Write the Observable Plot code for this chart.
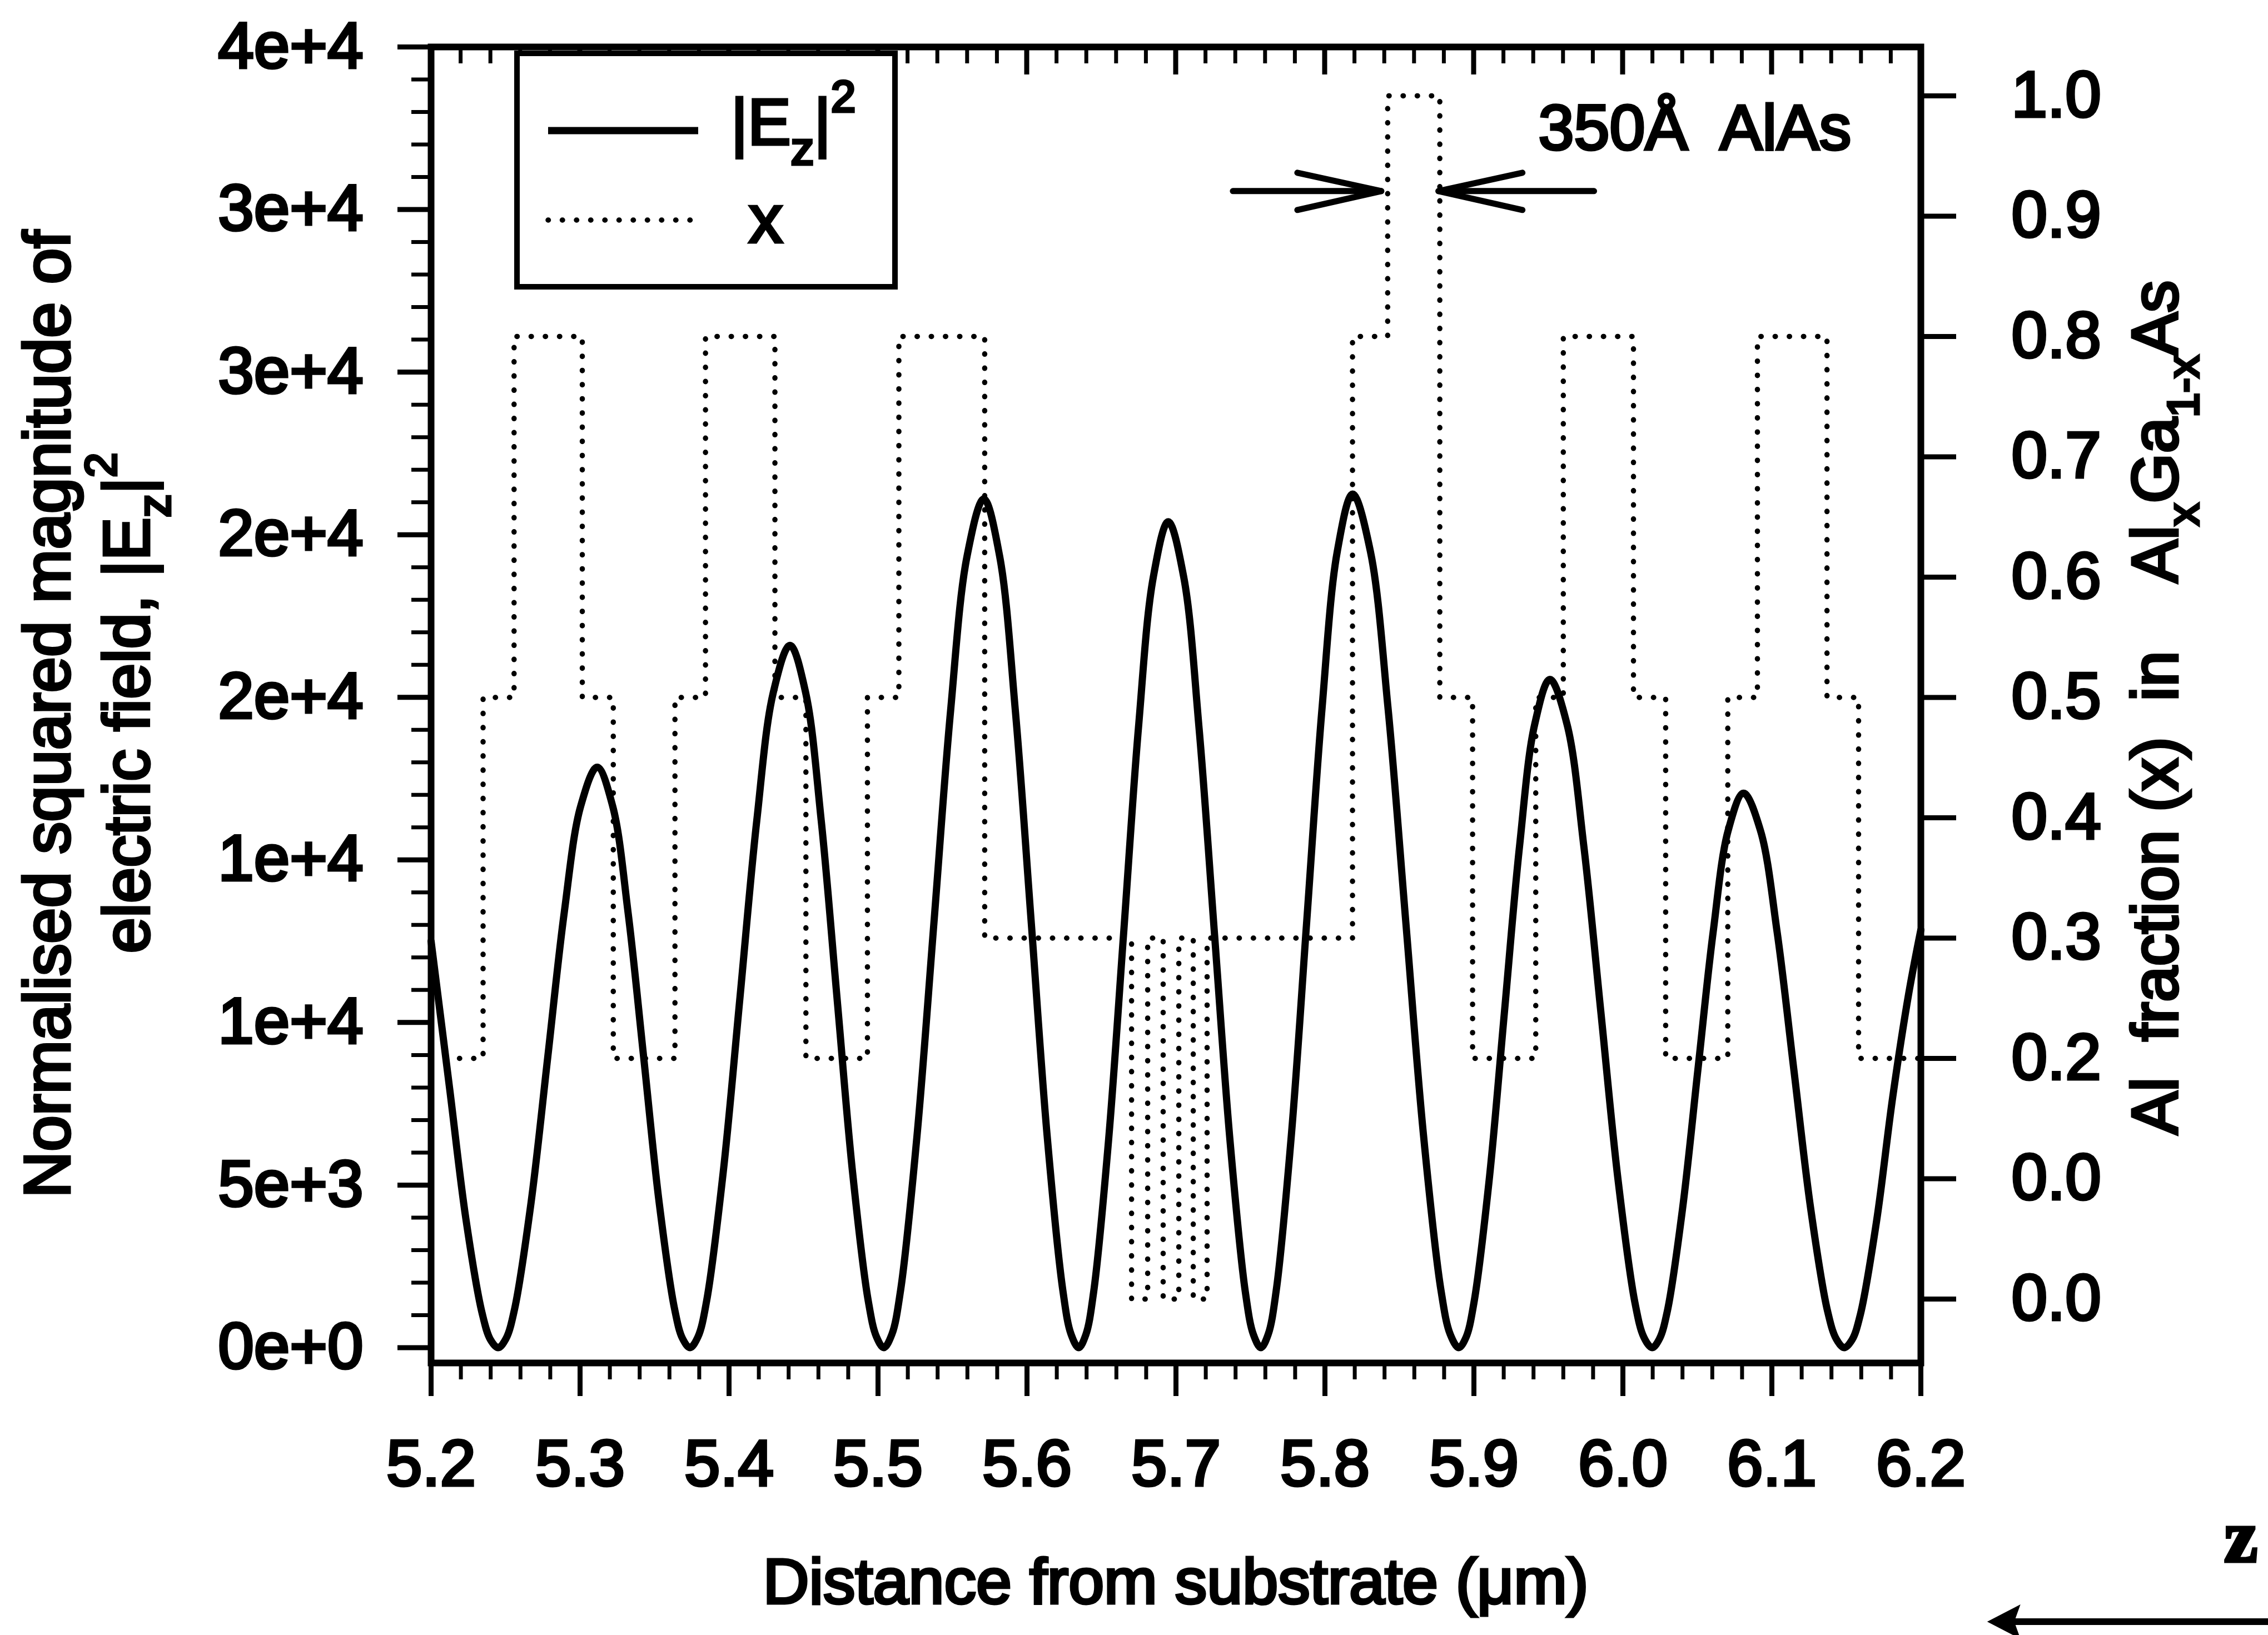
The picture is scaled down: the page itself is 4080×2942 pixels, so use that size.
<!DOCTYPE html>
<html>
<head>
<meta charset="utf-8">
<script src="https://cdn.jsdelivr.net/npm/d3@7"></script>
<script src="https://cdn.jsdelivr.net/npm/@observablehq/plot@0.6"></script>
<style>
  html, body { margin: 0; padding: 0; background: #fff; }
  #chart svg { display: block; }
  #chart text { stroke: #000; stroke-width: 5px; paint-order: stroke; }
</style>
</head>
<body>
<div id="chart"></div>
<script>
// ===================== data =====================
// |Ez|^2 curve: distance from substrate (um) and normalised squared field
const fieldX = [
  5.2000, 5.2125, 5.2233, 5.2342, 5.2398, 5.2450,
  5.2503, 5.2561, 5.2671, 5.2783, 5.2894, 5.3004, 5.3115, 5.3219, 5.3322, 5.3427, 5.3531, 5.3634, 5.3688, 5.3738,
  5.3792, 5.3850, 5.3961, 5.4074, 5.4186, 5.4297, 5.4409, 5.4514, 5.4619, 5.4724, 5.4829, 5.4934, 5.4989, 5.5039,
  5.5093, 5.5151, 5.5262, 5.5375, 5.5487, 5.5598, 5.5710, 5.5816, 5.5922, 5.6029, 5.6135, 5.6241, 5.6296, 5.6347,
  5.6395, 5.6447, 5.6547, 5.6648, 5.6748, 5.6848, 5.6948, 5.7052, 5.7155, 5.7259, 5.7363, 5.7466, 5.7520, 5.7570,
  5.7619, 5.7673, 5.7775, 5.7878, 5.7981, 5.8083, 5.8186, 5.8305, 5.8423, 5.8542, 5.8661, 5.8779, 5.8841, 5.8898,
  5.8947, 5.9000, 5.9102, 5.9204, 5.9306, 5.9408, 5.9510, 5.9625, 5.9738, 5.9853, 5.9968, 6.0081, 6.0141, 6.0196,
  6.0245, 6.0299, 6.0400, 6.0503, 6.0606, 6.0707, 6.0810, 6.0923, 6.1035, 6.1148, 6.1261, 6.1373, 6.1432, 6.1486,
  6.1538, 6.1594, 6.1703, 6.1811, 6.1919, 6.2000
];
const fieldY = [
  12500, 7950, 3980, 1070, 250, 0,
  280, 1200, 4460, 8930, 13390, 16650, 17850, 16650, 13390, 8930, 4460, 1200, 280, 0,
  340, 1450, 5400, 10800, 16200, 20150, 21600, 20150, 16200, 10800, 5400, 1450, 340, 0,
  410, 1750, 6530, 13050, 19580, 24350, 26100, 24350, 19580, 13050, 6530, 1750, 410, 0,
  400, 1700, 6350, 12700, 19050, 23700, 25400, 23700, 19050, 12700, 6350, 1700, 400, 0,
  410, 1760, 6560, 13130, 19690, 24490, 26250, 24490, 19690, 13130, 6560, 1760, 410, 0,
  320, 1380, 5140, 10280, 15410, 19170, 20550, 19170, 15410, 10280, 5140, 1380, 320, 0,
  270, 1140, 4260, 8530, 12790, 15910, 17050, 15910, 12790, 8530, 4260, 1140, 270, 0,
  240, 1020, 3900, 7700, 10900, 12850
];
// Al fraction profile: start of each layer (um) and its Al fraction x
const layerX = [
  5.2000, 5.2349, 5.2557, 5.3015, 5.3223, 5.3637, 5.3842, 5.4308, 5.4516, 5.4929, 5.5140,
  5.5716, 5.6702, 5.6810, 5.6914, 5.7019, 5.7116, 5.7209, 5.8185, 5.8421, 5.8771,
  5.8991, 5.9415, 5.9600, 6.0071, 6.0287, 6.0704, 6.0903, 6.1370, 6.1582, 6.2000
];
const layerFrac = [
  0.2, 0.5, 0.8, 0.5, 0.2, 0.5, 0.8, 0.5, 0.2, 0.5, 0.8,
  0.3, 0.0, 0.3, 0.0, 0.3, 0.0, 0.3, 0.8, 1.0, 0.5,
  0.2, 0.5, 0.8, 0.5, 0.2, 0.5, 0.8, 0.5, 0.2, 0.2
];
// tick values and their printed labels
const xTicks = [5.2, 5.3, 5.4, 5.5, 5.6, 5.7, 5.8, 5.9, 6.0, 6.1, 6.2];
const xTickLabels = ["5.2", "5.3", "5.4", "5.5", "5.6", "5.7", "5.8", "5.9", "6.0", "6.1", "6.2"];
const leftTicks = [0, 5000, 10000, 15000, 20000, 25000, 30000, 35000, 40000];
const leftTickLabels = ["0e+0", "5e+3", "1e+4", "1e+4", "2e+4", "2e+4", "3e+4", "3e+4", "4e+4"];
const rightTicks = [0.0, 0.1, 0.2, 0.3, 0.4, 0.5, 0.6, 0.7, 0.8, 0.9, 1.0];
const rightTickLabels = ["0.0", "0.0", "0.2", "0.3", "0.4", "0.5", "0.6", "0.7", "0.8", "0.9", "1.0"];
// the right axis (x = 0 .. 1) expressed on the left scale
const rightAxisAt0 = 1495, rightAxisAt1 = 38497;
// annotation of the AlAs layer (um, and right-axis units)
const arrowLeft = [5.7384, 5.8380];
const arrowRight = [5.9808, 5.8764];
const arrowLevel = 0.9206;
const noteX = 5.9435, noteLevel = 0.955;

// ===================== chart =====================
const toLeft = v => rightAxisAt0 + v * (rightAxisAt1 - rightAxisAt0);
const field = fieldX.map((x, i) => ({x, y: fieldY[i]}));
const layers = layerX.map((x, i) => ({x, y: toLeft(layerFrac[i])}));
const rightVals = rightTicks.map(toLeft);
const minorX = d3.range(0, 51).filter(i => i % 5).map(i => 5.2 + i * 0.02);
const minorLeft = d3.range(1, 40).filter(i => i % 5).map(i => i * 1000);

const W = 4080, H = 2942, mL = 775, mR = 625, mT = 84, mB = 490;
const FONT = "'Liberation Sans', Arial, Helvetica, sans-serif";
const FS = 116;

const plot = Plot.plot({
  width: W, height: H,
  marginLeft: mL, marginRight: mR, marginTop: mT, marginBottom: mB,
  style: {fontFamily: FONT, background: "#fff", color: "#000"},
  x: {domain: [5.2, 6.2]},
  y: {domain: [-470, 40000]},
  marks: [
    Plot.line(layers, {x: "x", y: "y", curve: "step-after", stroke: "#000", strokeWidth: 9.5,
      strokeDasharray: "0.5 25", strokeLinecap: "round"}),
    Plot.line(field, {x: "x", y: "y", curve: "catmull-rom", stroke: "#000", strokeWidth: 13,
      strokeLinejoin: "round"}),
    Plot.axisX({anchor: "bottom", ticks: xTicks, tickSize: 60, tickPadding: 78, strokeWidth: 9,
      fontSize: FS, tickFormat: d => xTickLabels[xTicks.indexOf(d)], label: null}),
    Plot.axisX({anchor: "bottom", ticks: minorX, tickSize: 30, strokeWidth: 7,
      tickFormat: () => "", label: null}),
    Plot.axisY({anchor: "left", ticks: leftTicks, tickSize: 60, tickPadding: 62, strokeWidth: 9,
      fontSize: FS, tickFormat: d => leftTickLabels[leftTicks.indexOf(d)], label: null}),
    Plot.axisY({anchor: "left", ticks: minorLeft, tickSize: 35, strokeWidth: 7,
      tickFormat: () => "", label: null}),
    Plot.axisY({anchor: "right", ticks: rightVals, tickSize: 63, tickPadding: 100, strokeWidth: 9,
      fontSize: FS, tickFormat: d => rightTickLabels[rightVals.indexOf(d)], label: null}),
    Plot.frame({stroke: "#000", strokeWidth: 12})
  ]
});
document.getElementById("chart").appendChild(plot);

const sx = plot.scale("x"), sy = plot.scale("y");
const px = v => sx.apply(v);
const pr = v => sy.apply(toLeft(v));
const svg = d3.select(plot);

// inward ticks on the top edge
const topG = svg.append("g").attr("stroke", "#000");
xTicks.forEach(t => topG.append("line").attr("x1", px(t)).attr("x2", px(t))
  .attr("y1", mT).attr("y2", mT + 50).attr("stroke-width", 9));
minorX.forEach(t => topG.append("line").attr("x1", px(t)).attr("x2", px(t))
  .attr("y1", mT).attr("y2", mT + 30).attr("stroke-width", 7));

// rich text helper
function rich(parent, parts, attrs) {
  const t = parent.append("text").attr("font-family", FONT).attr("fill", "#000").attr("text-anchor", "start");
  Object.entries(attrs).forEach(([k, v]) => t.attr(k, v));
  let shift = 0;
  parts.forEach(p => {
    const s = t.append("tspan").text(p.t);
    const want = p.dy || 0;
    if (want !== shift) { s.attr("dy", want - shift); shift = want; }
    if (p.fs) s.attr("font-size", p.fs);
  });
  return t;
}

// axis titles
svg.append("text").attr("x", (mL + W - mR) / 2).attr("y", 2885).attr("text-anchor", "middle")
  .attr("font-family", FONT).attr("font-size", 115).attr("fill", "#000").attr("stroke-width", 3.5)
  .text("Distance from substrate (\u03bcm)");

svg.append("text").attr("transform", "translate(125,1285) rotate(-90)").attr("text-anchor", "middle")
  .attr("font-family", FONT).attr("font-size", 116).attr("fill", "#000").attr("stroke-width", 3.5)
  .text("Normalised squared magnitude of");

rich(svg, [
  {t: "electric field, |E"},
  {t: "z", dy: 38, fs: 84},
  {t: "|", dy: 0},
  {t: "2", dy: -59, fs: 80}
], {transform: "translate(268,1265) rotate(-90)", "text-anchor": "middle", "font-size": 116, "stroke-width": 3.5});

rich(svg, [
  {t: "Al\u00a0\u00a0fraction (x)\u00a0 in\u00a0\u00a0\u00a0 Al"},
  {t: "x", dy: 38, fs: 80},
  {t: "Ga", dy: 0},
  {t: "1-x", dy: 38, fs: 80},
  {t: "As", dy: 0}
], {transform: "translate(3917,1273) rotate(-90)", "text-anchor": "middle", "font-size": 116, "stroke-width": 3.5});

// legend
const lg = svg.append("g");
lg.append("rect").attr("x", 930).attr("y", 96).attr("width", 680).attr("height", 420)
  .attr("fill", "#fff").attr("stroke", "#000").attr("stroke-width", 10);
lg.append("line").attr("x1", 986).attr("x2", 1256).attr("y1", 235).attr("y2", 235)
  .attr("stroke", "#000").attr("stroke-width", 13);
lg.append("line").attr("x1", 986).attr("x2", 1246).attr("y1", 396).attr("y2", 396)
  .attr("stroke", "#000").attr("stroke-width", 9.5).attr("stroke-dasharray", "0.5 25").attr("stroke-linecap", "round");
rich(lg, [
  {t: "|E"},
  {t: "z", dy: 36, fs: 84},
  {t: "|", dy: 0},
  {t: "2", dy: -59, fs: 80}
], {x: 1315, y: 260, "font-size": 116, "stroke-width": 4});
lg.append("text").attr("x", 1347).attr("y", 436).attr("text-anchor", "start").attr("font-family", FONT)
  .attr("font-size", 122).attr("fill", "#000").attr("stroke-width", 4).text("x");

// AlAs annotation
const ann = svg.append("g").attr("stroke", "#000").attr("stroke-width", 11)
  .attr("stroke-linecap", "round").attr("stroke-linejoin", "round").attr("fill", "none");
function arrow(x0, x1, lev) {
  const a = px(x0), b = px(x1), y = pr(lev), dir = Math.sign(b - a);
  ann.append("line").attr("x1", a).attr("x2", b).attr("y1", y).attr("y2", y);
  ann.append("path").attr("d", `M${b - dir * 151},${y - 33}L${b},${y}L${b - dir * 151},${y + 34}`);
}
arrow(arrowLeft[0], arrowLeft[1], arrowLevel);
arrow(arrowRight[0], arrowRight[1], arrowLevel);
svg.append("text").attr("x", px(noteX)).attr("y", pr(noteLevel)).attr("text-anchor", "start")
  .attr("font-family", FONT).attr("font-size", 115).attr("fill", "#000").attr("stroke-width", 4)
  .text("350\u00c5\u00a0 AlAs");

// z direction marker (bottom right)
svg.append("text").attr("x", 4001).attr("y", 2810).attr("text-anchor", "start")
  .attr("font-family", "'Liberation Serif', 'Times New Roman', serif")
  .attr("font-weight", "bold").attr("font-size", 136).attr("fill", "#000").attr("stroke-width", 2).text("z");
svg.append("line").attr("x1", 3610).attr("x2", 4080).attr("y1", 2918).attr("y2", 2918)
  .attr("stroke", "#000").attr("stroke-width", 12);
svg.append("path").attr("d", "M3578,2918L3632,2890L3622,2918L3632,2946Z").attr("fill", "#000")
  .attr("stroke", "#000").attr("stroke-width", 3);
</script>
</body>
</html>
